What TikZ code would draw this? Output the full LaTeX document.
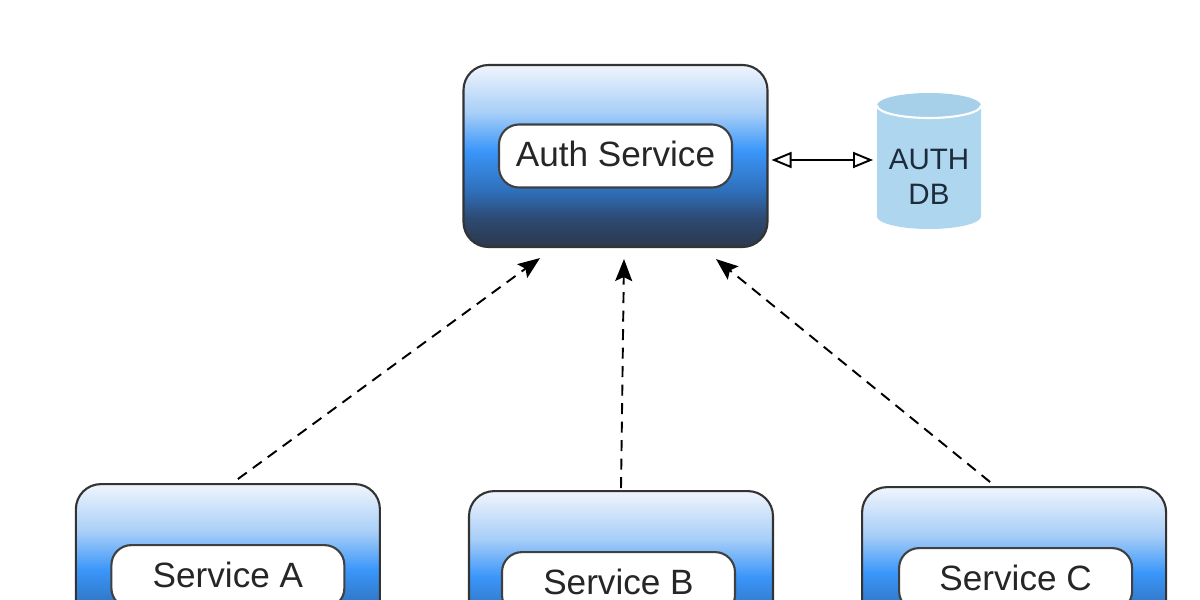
\documentclass[tikz,border=0pt]{standalone}
\usepackage{xcolor}
\usepackage{fontspec}
\usepackage{tikz}
\setmainfont{Liberation Sans}
\usetikzlibrary{arrows.meta,positioning,calc}

\definecolor{dbblue}{HTML}{AFD6EF}
\definecolor{dbtop}{HTML}{A6CFEA}
\definecolor{inkdark}{HTML}{1C2C3C}
\pgfdeclareverticalshading{boxshade}{100bp}{
    rgb(0bp)=(0.17,0.22,0.30);
    rgb(25bp)=(0.17,0.22,0.30);
    rgb(33bp)=(0.18,0.29,0.45);
    rgb(40bp)=(0.18,0.43,0.72);
    rgb(51.5bp)=(0.23,0.59,0.98);
    rgb(62bp)=(0.66,0.81,0.97);
    rgb(75bp)=(0.94,0.96,0.99);
    rgb(100bp)=(0.94,0.96,0.99)
}

\begin{document}
\begin{tikzpicture}[
    service/.style={
        draw=black!80,
        line width=0.6pt,
        rounded corners=0.25cm,
        shading=boxshade,
        minimum width=3.04cm,
        minimum height=1.82cm
    },
    pill/.style={
        draw=black!75,
        line width=0.6pt,
        fill=white,
        rounded corners=0.2cm,
        minimum width=2.33cm,
        minimum height=0.63cm,
        text depth=1pt,
        text=black!85,
        font=\fontsize{10}{12}\selectfont
    },
    dblabel/.style={
        align=center,
        inner sep=0pt,
        text=inkdark,
        font=\fontsize{8.4}{9.9}\selectfont
    },
    dep/.style={-{Stealth[length=2.2mm,width=1.7mm,inset=0.4mm]}, dash pattern=on 1.1mm off 0.75mm, line width=0.55pt},
    biarrow/.style={{Triangle[open,length=2mm,width=1.6mm]}-{Triangle[open,length=2mm,width=1.6mm]}, line width=0.55pt}
]
\clip (0,0) rectangle (12,6);

\node[service] (auth) at (6.155,4.44) {};
\node[pill] (authlabel) at (auth) {Auth Service};

% database cylinder
\coordinate (dbtop) at (9.29,4.945);
\coordinate (dbbase) at (9.29,3.835);
\fill[dbblue] ($(dbtop)+(-0.52,0)$) -- ($(dbbase)+(-0.52,0)$)
    arc[start angle=180, end angle=360, x radius=0.52cm, y radius=0.125cm]
    -- ($(dbtop)+(0.52,0)$) -- cycle;
\fill[dbtop] (dbtop) ellipse[x radius=0.52cm, y radius=0.125cm];
\draw[white, line width=0.6pt] ($(dbtop)+(-0.52,0)$)
    arc[start angle=180, end angle=360, x radius=0.52cm, y radius=0.125cm];
\node[dblabel] (dbtext) at (9.29,4.23) {AUTH\\DB};

\node[service, below=2.42cm of auth, xshift=0.055cm] (sb) {};
\node[service, left=0.87cm of sb, yshift=0.07cm] (sa) {};
\node[service, right=0.87cm of sb, yshift=0.04cm] (sc) {};
\node[pill, yshift=-0.015cm] (salabel) at (sa) {Service A};
\node[pill, yshift=-0.015cm, xshift=-0.025cm] (sblabel) at (sb) {Service B};
\node[pill, yshift=-0.015cm, xshift=0.015cm] (sclabel) at (sc) {Service C};

% arrow ends stop short of the box edges
\coordinate (ina) at ($(auth.south)+(-0.755,-0.10)$);
\coordinate (inb) at ($(auth.south)+(0.085,-0.11)$);
\coordinate (inc) at ($(auth.south)+(1.005,-0.11)$);
\coordinate (outa) at ($(sa.north)+(0.10,0.04)$);
\coordinate (outb) at ($(sb.north)+(0,0.02)$);
\coordinate (outc) at ($(sc.north)+(-0.24,0.04)$);
\coordinate (authout) at ($(auth.east)+(0.03,-0.04)$);
\coordinate (dbin) at ($(auth.east)+(1.045,-0.04)$);

\draw[dep] (outa) -- (ina);
\draw[dep] (outb) -- (inb);
\draw[dep] (outc) -- (inc);

\draw[biarrow] (authout) -- (dbin);
\end{tikzpicture}
\end{document}
